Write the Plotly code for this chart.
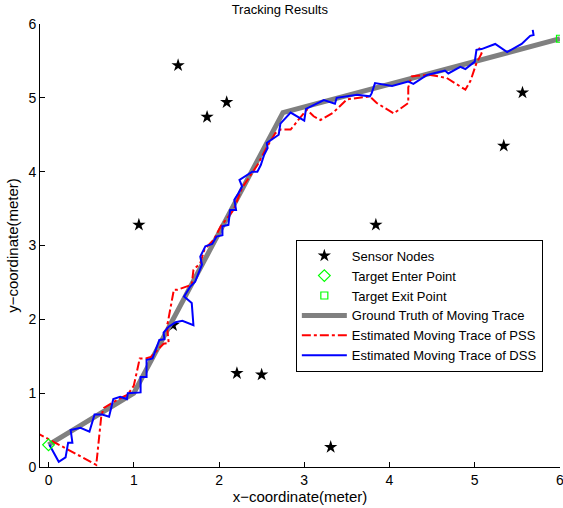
import plotly.graph_objects as go

# Sensor nodes
sensor_x = [1.52, 1.86, 2.09, 1.06, 2.21, 2.50, 3.31, 3.84, 5.02, 5.34, 5.56, 1.46]
sensor_y = [5.44, 4.74, 4.94, 3.28, 1.27, 1.25, 0.27, 3.28, 1.39, 4.35, 5.07, 1.92]

enter_x = [0.0]
enter_y = [0.3]
exit_x = [6.0]
exit_y = [5.8]

# Ground truth
truth_x = [0.0, 1.0, 2.75, 6.0]
truth_y = [0.3, 1.0, 4.8, 5.8]

# PSS estimate
pss_x = [-0.15, 0.56, 0.62, 0.65, 0.82, 0.93, 1.00, 1.04, 1.07, 1.14, 1.20, 1.35, 1.41, 1.39,
         1.47, 1.51, 1.68, 1.70, 1.78, 1.83, 1.94, 2.02, 2.17, 2.27, 2.45, 2.57, 2.66, 2.72,
         2.84, 2.93, 3.03, 3.11, 3.19, 3.34, 3.50, 3.77, 3.85, 4.05, 4.22, 4.22, 4.26, 4.32,
         4.48, 4.67, 4.89, 4.95, 5.02, 5.08, 5.05]
pss_y = [0.47, 0.03, 0.70, 0.80, 0.92, 0.98, 1.10, 1.30, 1.47, 1.47, 1.49, 1.67, 1.68, 1.90,
         2.40, 2.40, 2.47, 2.67, 2.76, 2.95, 3.08, 3.26, 3.48, 3.78, 4.09, 4.35, 4.52, 4.57,
         4.57, 4.70, 4.84, 4.75, 4.70, 4.80, 4.98, 5.02, 4.93, 4.79, 4.93, 5.14, 5.29, 5.30,
         5.31, 5.27, 5.11, 5.23, 5.47, 5.60, 5.68]

# DSS estimate
dss_x = [0.01, 0.12, 0.20, 0.23, 0.28, 0.26, 0.375, 0.48, 0.54, 0.63, 0.71, 0.76, 0.84, 0.92,
         0.93, 1.08, 1.08, 1.15, 1.15, 1.22, 1.30, 1.36, 1.35, 1.41, 1.49, 1.57, 1.70, 1.68,
         1.59, 1.66, 1.72, 1.78, 1.80, 1.78, 1.84, 1.92, 1.97, 2.04, 2.04, 2.11, 2.13, 2.20,
         2.18, 2.23, 2.27, 2.24, 2.39, 2.45, 2.49, 2.53, 2.57, 2.56, 2.62, 2.70, 2.72, 2.84,
         3.00, 3.02, 3.23, 3.36, 3.38, 3.50, 3.62, 3.77, 3.79, 3.83, 4.03, 4.22, 4.28, 4.44,
         4.65, 4.69, 4.83, 4.89, 5.00, 5.02, 5.08, 5.24, 5.38, 5.55, 5.65, 5.69, 5.68]
dss_y = [0.30, 0.07, 0.13, 0.33, 0.33, 0.50, 0.53, 0.48, 0.71, 0.71, 0.68, 0.92, 0.95, 0.92,
         1.00, 1.01, 1.22, 1.22, 1.45, 1.47, 1.72, 1.73, 1.82, 1.90, 1.96, 1.98, 1.92, 2.22,
         2.31, 2.44, 2.51, 2.67, 2.74, 2.85, 2.99, 3.02, 3.12, 3.14, 3.26, 3.28, 3.48, 3.48,
         3.62, 3.71, 3.80, 3.89, 4.00, 4.00, 4.09, 4.23, 4.32, 4.39, 4.44, 4.50, 4.65, 4.80,
         4.69, 4.85, 4.97, 4.92, 5.00, 5.02, 5.04, 5.02, 5.06, 5.20, 5.16, 5.22, 5.19, 5.31,
         5.37, 5.33, 5.42, 5.39, 5.49, 5.65, 5.66, 5.73, 5.62, 5.73, 5.84, 5.85, 5.92]

tick_vals = [0, 1, 2, 3, 4, 5, 6]

FONT = "Liberation Sans, Arial, sans-serif"

fig = go.Figure()
fig.add_trace(go.Scatter(x=sensor_x, y=sensor_y, mode="markers", name="Sensor Nodes",
                         marker=dict(symbol="star", color="black", size=10), legendrank=1))
fig.add_trace(go.Scatter(x=truth_x, y=truth_y, mode="lines", name="Ground Truth of Moving Trace",
                         line=dict(color="rgb(128,128,128)", width=5), legendrank=4))
fig.add_trace(go.Scatter(x=pss_x, y=pss_y, mode="lines", name="Estimated Moving Trace of PSS",
                         line=dict(color="red", width=2, dash="dashdot"), legendrank=5))
fig.add_trace(go.Scatter(x=dss_x, y=dss_y, mode="lines", name="Estimated Moving Trace of DSS",
                         line=dict(color="blue", width=2), legendrank=6))
fig.add_trace(go.Scatter(x=enter_x, y=enter_y, mode="markers", name="Target Enter Point",
                         marker=dict(symbol="diamond-open", color="rgb(0,255,0)", size=9,
                                     line=dict(width=1.2)), legendrank=2))
fig.add_trace(go.Scatter(x=exit_x, y=exit_y, mode="markers", name="Target Exit Point",
                         marker=dict(symbol="square-open", color="rgb(0,255,0)", size=7,
                                     line=dict(width=1.2)), legendrank=3))

axis_common = dict(showline=True, linecolor="black", linewidth=1, ticks="inside", ticklen=5,
                   tickcolor="black", showgrid=False, zeroline=False, mirror=False,
                   automargin=False, ticklabeloverflow="allow",
                   tickfont=dict(family=FONT, size=14, color="black"))

fig.update_layout(
    width=563, height=508,
    margin=dict(l=40, r=3, t=24, b=41),
    paper_bgcolor="white", plot_bgcolor="white",
    font=dict(family=FONT, size=14, color="black"),
    title=dict(text="Tracking Results", x=0.497, xref="container", xanchor="center",
               y=1 - 9 / 508, yanchor="middle", yref="container",
               font=dict(family=FONT, size=13)),
    xaxis=dict(range=[-0.1, 6], tickvals=tick_vals,
               title=dict(text="x\u2212coordinate(meter)", standoff=4,
                          font=dict(family=FONT, size=15)), **axis_common),
    yaxis=dict(range=[0, 6], tickvals=tick_vals,
               title=dict(text="y\u2212coordinate(meter)", standoff=6,
                          font=dict(family=FONT, size=15)), **axis_common),
    legend=dict(x=0.492, y=0.513, xanchor="left", yanchor="top", bgcolor="white",
                bordercolor="black", borderwidth=1, itemwidth=45,
                font=dict(family=FONT, size=13), tracegroupgap=0),
    showlegend=True,
)

fig.write_html("out.html", config={"displayModeBar": False},
               post_script="document.body.style.margin='0px';document.body.style.padding='0px';")
